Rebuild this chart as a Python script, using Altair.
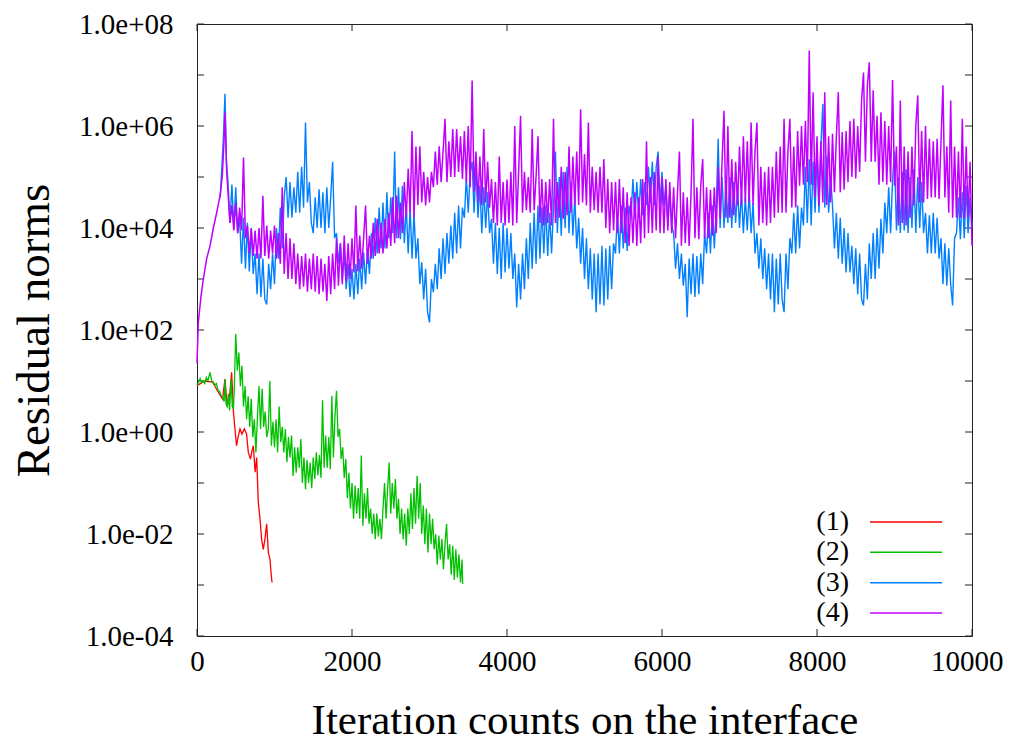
import altair as alt
import pandas as pd

FONT = "Liberation Serif"

series_labels = ["(1)", "(2)", "(3)", "(4)"]
series_colors = ["#ff0000", "#00c000", "#0080ff", "#c000ff"]

x_tick_values = [0, 2000, 4000, 6000, 8000, 10000]
y_decades = [1e-4, 1e-3, 1e-2, 1e-1, 1e0, 1e1, 1e2, 1e3, 1e4, 1e5, 1e6, 1e7, 1e8]
y_label_values = [1e-4, 1e-2, 1e0, 1e2, 1e4, 1e6, 1e8]

# All values are log10 of the residual norm.
# (1): (iteration, log10) pairs
series1 = [(0, 0.91), (100, 1.0), (200, 0.98), (275, 0.78), (300, 0.72), (330, 0.65), (361, 1.04),
           (390, 0.5), (420, 0.7), (447, 1.17), (470, 0.4), (490, 0.06), (510, -0.27), (530, -0.1),
           (555, 0.06), (580, -0.04), (610, 0.06), (640, -0.04), (662, -0.4), (690, -0.53), (705, -0.4),
           (727, -0.27), (750, -0.79), (770, -0.5), (791, -1.38), (813, -1.7), (834, -2.1), (855, -2.3),
           (877, -2.1), (899, -1.8), (920, -2.36), (942, -2.5), (955, -2.75), (968, -2.95)]

# (2): start, then every 20 iterations from 480, then the end point
series2_start = [(0, 0.91), (20, 0.98), (40, 1.05), (60, 0.97), (80, 1.0), (100, 0.95), (120, 1.07),
                 (140, 1.0), (168, 1.17), (190, 1.0), (210, 0.98), (230, 0.92), (250, 0.95), (270, 0.82),
                 (290, 0.8), (310, 0.72), (330, 0.68), (350, 0.6), (360, 1.04), (375, 0.55), (390, 0.5),
                 (405, 0.75), (420, 0.42), (440, 1.04), (455, 0.5), (470, 0.45)]
series2_every20 = [
    0.8, 1.92, 1.2, 1.56, 0.9, 1.3, 0.5, 0.9, 0.25, 0.7,                 # 480-660
    0.1, 0.65, -0.1, 0.25, -0.4, 0.3, 0.9, 0.06, 0.85, 0.1,              # 680-860
    0.4, -0.1, 0.06, 1.0, -0.27, 0.2, -0.3, 0.25, -0.4, 0.5,             # 880-1060
    -0.2, 0.1, -0.4, 0.06, -0.59, -0.1, -0.5, -0.07, -0.86, -0.3,        # 1080-1260
    -0.8, -0.3, -0.7, -0.14, -1.0, -0.5, -1.12, -0.55, -1.0, -0.6,       # 1280-1460
    -1.1, -0.5, -0.92, -0.4, -0.85, -0.45, -0.9, 0.62, -0.7, -0.07,      # 1480-1660
    -0.7, -0.1, -0.73, 0.71, -0.5, 0.3, 0.81, -0.1, 0.06, -0.53,         # 1680-1860
    -0.3, -0.9, -0.53, -1.3, -0.8, -1.5, -1.0, -1.7, -1.05, -1.6,        # 1880-2060
    -1.1, -1.7, -0.46, -1.84, -1.2, -1.7, -1.1, -1.8, -1.5, -2.0,        # 2080-2260
    -1.6, -2.1, -1.6, -2.05, -1.7, -2.1, -1.5, -1.0, -1.7, -1.1,         # 2280-2460
    -0.6, -1.6, -1.0, -1.5, -0.92, -1.7, -1.31, -2.0, -1.5, -2.1,        # 2480-2660
    -1.6, -2.23, -1.5, -2.0, -1.2, -1.9, -1.1, -1.8, -0.86, -1.7,        # 2680-2860
    -1.0, -2.0, -1.44, -2.2, -1.5, -2.36, -1.6, -2.2, -1.7, -2.3,        # 2880-3060
    -2.0, -2.6, -2.03, -2.5, -2.1, -2.69, -2.2, -1.8, -2.5, -2.2,        # 3080-3260
    -2.8, -2.23, -2.9, -2.3, -2.85, -2.4, -2.95, -2.5,                   # 3280-3420
]
series2_end = [(3428, -2.98)]

# (3): start, then every 25 iterations from 400, then the end point
series3_start = [(300, 4.6), (340, 5.75), (361, 6.63), (380, 5.3)]
series3_every25 = [
    4.9, 4.1, 4.85, 4.0, 4.8, 3.9, 4.2, 3.3, 4.2, 3.2, 4.1, 3.15, 4.0, 3.1, 3.5, 2.7,            # 400-775
    3.5, 2.65, 3.4, 2.6, 2.5, 3.3, 2.8, 3.5, 2.9, 4.0, 3.4, 4.4, 3.6, 4.6, 5.0, 4.2,            # 800-1175
    4.9, 4.2, 4.8, 4.3, 5.1, 4.3, 5.2, 4.4, 6.07, 4.5, 4.9, 4.1, 3.9, 4.6, 4.0, 4.76,           # 1200-1575
    4.0, 4.7, 3.9, 4.8, 4.0, 4.6, 5.3, 3.8, 3.9, 3.3, 3.7, 3.0, 3.5, 2.8, 3.3, 2.65,            # 1600-1975
    3.2, 2.6, 3.3, 2.7, 3.4, 2.8, 3.52, 2.9, 3.6, 3.1, 3.9, 3.4, 4.2, 3.5, 4.4, 3.6,            # 2000-2375
    4.5, 3.6, 4.7, 3.8, 4.6, 3.9, 5.5, 3.8, 4.8, 3.78, 4.83, 3.7, 4.44, 3.5, 4.4, 3.4,          # 2400-2775
    4.3, 3.4, 3.8, 2.9, 3.33, 2.6, 3.2, 2.35, 2.15, 3.0, 2.74, 3.3, 2.8, 3.6, 3.0, 3.8,         # 2800-3175
    3.1, 3.9, 3.3, 4.05, 3.4, 4.3, 3.5, 4.44, 3.6, 4.4, 4.2, 5.0, 4.3, 5.1, 5.3, 4.3,           # 3200-3575
    5.2, 4.2, 4.83, 3.9, 4.8, 4.0, 4.7, 3.9, 4.18, 3.3, 4.1, 3.1, 4.0, 3.0, 4.1, 3.13,          # 3600-3975
    4.0, 3.2, 3.9, 3.0, 3.5, 2.44, 3.3, 2.6, 3.5, 2.8, 3.8, 3.0, 4.1, 3.2, 4.3, 3.3,            # 4000-4375
    4.44, 3.4, 4.4, 3.5, 4.44, 3.45, 4.3, 3.5, 4.4, 5.5, 3.9, 5.0, 3.85, 5.1, 4.0, 5.2,         # 4400-4775
    3.9, 4.9, 3.85, 4.6, 3.6, 4.2, 3.3, 4.0, 3.0, 3.8, 2.8, 3.6, 2.6, 3.5, 2.35, 3.5,           # 4800-5175
    2.5, 3.65, 2.48, 3.6, 2.6, 3.65, 2.8, 3.7, 3.5, 4.3, 3.5, 4.44, 3.6, 4.4, 3.55, 4.44,       # 5200-5575
    4.2, 4.96, 4.18, 4.9, 4.2, 4.96, 4.25, 4.9, 4.44, 5.2, 4.5, 5.3, 4.44, 5.2, 5.5, 4.45,      # 5600-5975
    5.1, 4.44, 4.83, 4.05, 4.7, 4.05, 3.9, 3.2, 3.7, 3.0, 3.5, 2.87, 3.3, 2.25, 3.4, 2.7,       # 6000-6375
    3.5, 2.65, 3.45, 2.7, 3.5, 2.9, 3.9, 3.5, 4.3, 3.5, 4.44, 3.6, 4.4, 5.75, 4.0, 5.0,         # 6400-6775
    4.0, 4.9, 4.1, 5.0, 4.0, 4.9, 4.1, 4.8, 4.0, 4.7, 3.9, 4.6, 3.95, 4.7, 3.9, 4.5,            # 6800-7175
    3.5, 3.9, 3.2, 3.8, 3.0, 3.6, 2.8, 3.5, 2.6, 3.5, 2.35, 3.4, 2.5, 3.5, 2.6, 2.35,           # 7200-7575
    3.5, 2.8, 3.8, 3.5, 4.3, 3.5, 4.44, 3.6, 4.4, 4.05, 5.2, 4.1, 5.35, 4.05, 5.3, 4.3,         # 7600-7975
    5.5, 4.3, 5.6, 6.43, 4.4, 5.4, 4.3, 5.0, 4.44, 3.6, 4.3, 3.4, 4.2, 3.3, 4.0, 3.13,          # 8000-8375
    3.9, 3.13, 3.65, 2.9, 3.6, 2.7, 3.5, 2.6, 2.48, 3.3, 2.6, 3.7, 3.0, 3.9, 3.0, 4.0,          # 8400-8775
    3.2, 4.18, 3.5, 4.5, 3.9, 4.8, 3.9, 4.96, 5.5, 3.95, 5.0, 3.9, 5.1, 3.95, 5.15, 3.9,        # 8800-9175
    5.0, 4.0, 5.15, 3.9, 5.0, 4.0, 4.9, 3.9, 4.3, 3.5, 4.25, 3.5, 4.3, 3.5, 4.2, 3.4,           # 9200-9575
    3.8, 2.9, 3.7, 2.87, 3.6, 2.9, 2.48, 3.8, 3.9, 4.6, 3.78, 4.7, 3.8, 4.83, 3.9, 4.6,         # 9600-9975
]
series3_end = [(10000, 4.0)]

# (4): start, then every 25 iterations from 400, then the end point
series4_start = [(0, 1.35), (17, 2.15), (52, 2.67), (82, 3.0), (125, 3.4), (168, 3.65), (211, 4.0),
                  (254, 4.3), (297, 4.63), (327, 5.03), (348, 5.68), (361, 6.27), (383, 5.1)]
series4_every25 = [
    4.7, 4.1, 4.45, 3.95, 4.5, 3.9, 4.4, 3.95, 5.38, 3.8, 4.05, 3.5, 4.0, 3.45, 3.95, 3.4,      # 400-775
    4.0, 3.4, 4.63, 3.45, 4.05, 3.4, 3.95, 3.5, 4.05, 3.4, 3.9, 3.3, 4.8, 3.1, 3.9, 3.0,        # 800-1175
    3.8, 3.0, 3.7, 2.9, 3.5, 2.8, 3.45, 2.85, 3.5, 2.75, 3.4, 2.8, 3.5, 2.75, 3.45, 2.7,        # 1200-1575
    3.4, 2.75, 3.3, 2.57, 3.45, 2.7, 3.5, 2.8, 3.8, 2.87, 3.7, 2.9, 3.85, 2.95, 3.7, 3.0,       # 1600-1975
    3.8, 3.13, 4.44, 3.15, 3.85, 3.2, 3.8, 4.44, 3.3, 3.85, 3.4, 4.1, 3.45, 4.18, 3.5, 4.1,     # 2000-2375
    3.5, 4.18, 3.6, 4.3, 3.65, 4.6, 3.7, 4.63, 3.8, 4.5, 3.9, 4.9, 4.2, 5.16, 4.3, 5.9,         # 2400-2775
    4.2, 5.6, 4.45, 5.6, 4.5, 5.1, 4.44, 5.0, 4.5, 5.1, 4.8, 5.5, 4.85, 5.6, 4.9, 5.5,          # 2800-3175
    6.14, 4.9, 5.7, 5.0, 5.94, 5.0, 5.94, 5.1, 5.8, 4.96, 5.9, 4.9, 6.0, 4.8, 6.89, 4.7,        # 3200-3575
    5.5, 4.5, 5.4, 4.45, 5.94, 4.5, 5.3, 4.4, 4.96, 4.1, 4.9, 4.05, 5.4, 4.1, 4.9, 4.05,        # 3600-3975
    4.95, 4.1, 5.1, 4.05, 6.0, 4.1, 5.1, 6.2, 4.3, 5.1, 4.35, 5.0, 4.3, 5.94, 4.35, 5.0,        # 4000-4375
    5.8, 4.1, 4.96, 4.05, 4.9, 4.1, 4.96, 4.05, 6.14, 4.1, 4.9, 4.2, 5.2, 4.18, 5.1, 4.25,      # 4400-4775
    5.6, 4.3, 5.4, 4.44, 5.5, 4.45, 6.33, 4.5, 5.45, 4.44, 6.07, 4.3, 5.2, 4.35, 5.1, 4.3,      # 4800-5175
    5.2, 4.3, 5.35, 4.0, 4.96, 3.9, 4.9, 3.95, 4.9, 3.9, 4.96, 3.9, 4.8, 3.7, 4.7, 3.65,        # 5200-5575
    4.6, 3.7, 4.7, 3.65, 4.6, 3.7, 4.96, 3.8, 5.7, 3.9, 5.0, 3.9, 5.1, 3.95, 5.4, 3.9,          # 5600-5975
    5.0, 3.9, 4.96, 3.95, 4.9, 3.9, 4.8, 3.8, 4.7, 5.5, 3.65, 4.7, 3.7, 4.6, 3.65, 4.7,         # 6000-6375
    6.14, 3.8, 4.8, 3.78, 4.83, 5.35, 3.8, 4.8, 3.8, 4.75, 3.85, 4.8, 3.9, 5.2, 4.18, 5.3,      # 6400-6775
    6.3, 4.2, 6.0, 4.2, 5.35, 4.25, 5.3, 4.44, 5.6, 4.45, 5.8, 4.5, 5.7, 4.5, 6.07, 4.45,       # 6800-7175
    5.5, 6.07, 4.05, 5.2, 4.1, 5.1, 4.05, 5.2, 4.1, 5.2, 4.2, 5.5, 4.3, 5.6, 4.3, 6.14,         # 7200-7575
    4.3, 5.5, 6.14, 4.4, 5.6, 4.4, 5.9, 4.83, 6.0, 4.85, 6.1, 4.9, 7.48, 4.85, 6.66, 4.6,       # 7600-7975
    5.8, 4.44, 5.7, 4.5, 6.66, 4.45, 5.8, 4.5, 5.85, 4.7, 5.8, 6.66, 4.7, 5.88, 4.75, 5.9,      # 8000-8375
    4.9, 6.1, 5.0, 6.14, 4.97, 6.0, 5.1, 6.5, 7.05, 5.3, 6.8, 7.25, 5.3, 6.7, 5.3, 6.2,         # 8400-8775
    4.85, 6.27, 4.9, 6.1, 4.85, 6.0, 4.9, 6.9, 4.83, 5.6, 4.05, 6.5, 4.1, 5.6, 4.05, 5.5,       # 8800-9175
    4.2, 5.6, 4.44, 6.0, 6.6, 4.5, 5.9, 4.5, 6.0, 4.57, 5.75, 4.6, 5.7, 4.6, 5.75, 4.57,        # 9200-9575
    5.7, 6.8, 4.6, 5.6, 4.3, 6.5, 4.2, 5.6, 4.2, 5.5, 4.2, 6.14, 4.18, 5.6, 4.2, 5.3,           # 9600-9975
]
series4_end = [(10000, 3.65)]


def on_grid(first, step, values):
    return [(first + step * i, v) for i, v in enumerate(values)]


def frame(pairs):
    return pd.DataFrame({"it": [p[0] for p in pairs], "res": [10.0 ** p[1] for p in pairs]})


pairs1 = series1
pairs2 = series2_start + on_grid(480, 20, series2_every20) + series2_end
pairs3 = series3_start + on_grid(400, 25, series3_every25) + series3_end
pairs4 = series4_start + on_grid(400, 25, series4_every25) + series4_end

x_scale = alt.Scale(domain=[0, 10000], nice=False, zero=False)
y_scale = alt.Scale(type="log", domain=[1e-4, 1e8], nice=False)

x_axis = alt.Axis(values=x_tick_values, format="d", title="Iteration counts on the interface",
                  ticks=False, domain=False, grid=False, labelFlush=False, labelPadding=11,
                  labelAlign={"expr": "datum.value == 10000 ? 'right' : 'center'"},
                  labelOffset={"expr": "datum.value == 10000 ? 31 : 0"},
                  labelFont=FONT, labelFontSize=29, labelColor="black",
                  titleFont=FONT, titleFontSize=43, titleFontWeight="normal", titleColor="black",
                  titlePadding=23)
y_label_expr = ("'1.0e' + (round(log(datum.value)/LN10) < 0 ? '-' : '+') + "
                "(abs(round(log(datum.value)/LN10)) < 10 ? '0' : '') + abs(round(log(datum.value)/LN10))")
y_axis = alt.Axis(values=y_label_values, labelExpr=y_label_expr, title="Residual norms",
                  ticks=False, domain=False, grid=False, labelFlush=False, labelPadding=24,
                  labelFont=FONT, labelFontSize=29, labelColor="black", labelOverlap=False,
                  titleFont=FONT, titleFontSize=47, titleFontWeight="normal", titleColor="black",
                  titlePadding=20)

X = alt.X("it:Q", scale=x_scale, axis=x_axis)
Y = alt.Y("res:Q", scale=y_scale, axis=y_axis)

TICK_COLOR = "#222222"
ytick_df = pd.DataFrame({"res": y_decades})
xtick_df = pd.DataFrame({"it": x_tick_values})

tick_left = alt.Chart(ytick_df).mark_rule(color=TICK_COLOR, strokeWidth=1).encode(
    y=Y, x=alt.value(0), x2=alt.value(7))
tick_right = alt.Chart(ytick_df).mark_rule(color=TICK_COLOR, strokeWidth=1).encode(
    y=Y, x=alt.value(768), x2=alt.value(775))
tick_bottom = alt.Chart(xtick_df).mark_rule(color=TICK_COLOR, strokeWidth=1).encode(
    x=X, y=alt.value(612), y2=alt.value(605))
tick_top = alt.Chart(xtick_df).mark_rule(color=TICK_COLOR, strokeWidth=1).encode(
    x=X, y=alt.value(0), y2=alt.value(7))


def line(pairs, color, width):
    return alt.Chart(frame(pairs)).mark_line(color=color, strokeWidth=width, interpolate="linear").encode(
        x=X, y=Y)


main = alt.layer(
    tick_left, tick_right, tick_bottom, tick_top,
    line(pairs1, series_colors[0], 1.3),
    line(pairs2, series_colors[1], 1.3),
    line(pairs3, series_colors[2], 1.4),
    line(pairs4, series_colors[3], 1.5),
)

leg_df = pd.DataFrame({"label": series_labels})
leg_y = alt.Y("label:N", scale=alt.Scale(type="point", domain=series_labels, range=[498, 589], padding=0),
              axis=None)
leg_text = alt.Chart(leg_df).mark_text(align="right", baseline="middle", font=FONT, fontSize=28,
                                       color="black").encode(x=alt.value(652), y=leg_y, text="label:N")
leg_rule = alt.Chart(leg_df).mark_rule(strokeWidth=1.5).encode(
    x=alt.value(673), x2=alt.value(745), y=leg_y,
    color=alt.Color("label:N", scale=alt.Scale(domain=series_labels, range=series_colors), legend=None))

chart = alt.layer(main, leg_text, leg_rule).resolve_scale(y="independent").properties(
    width=775, height=612,
    padding={"left": 189, "top": 16, "right": 31, "bottom": 107},
    autosize=alt.AutoSizeParams(type="none"),
    background="white",
).configure_view(stroke=TICK_COLOR, strokeWidth=1)

chart.save("out.html", embed_options={"renderer": "svg", "actions": False})
